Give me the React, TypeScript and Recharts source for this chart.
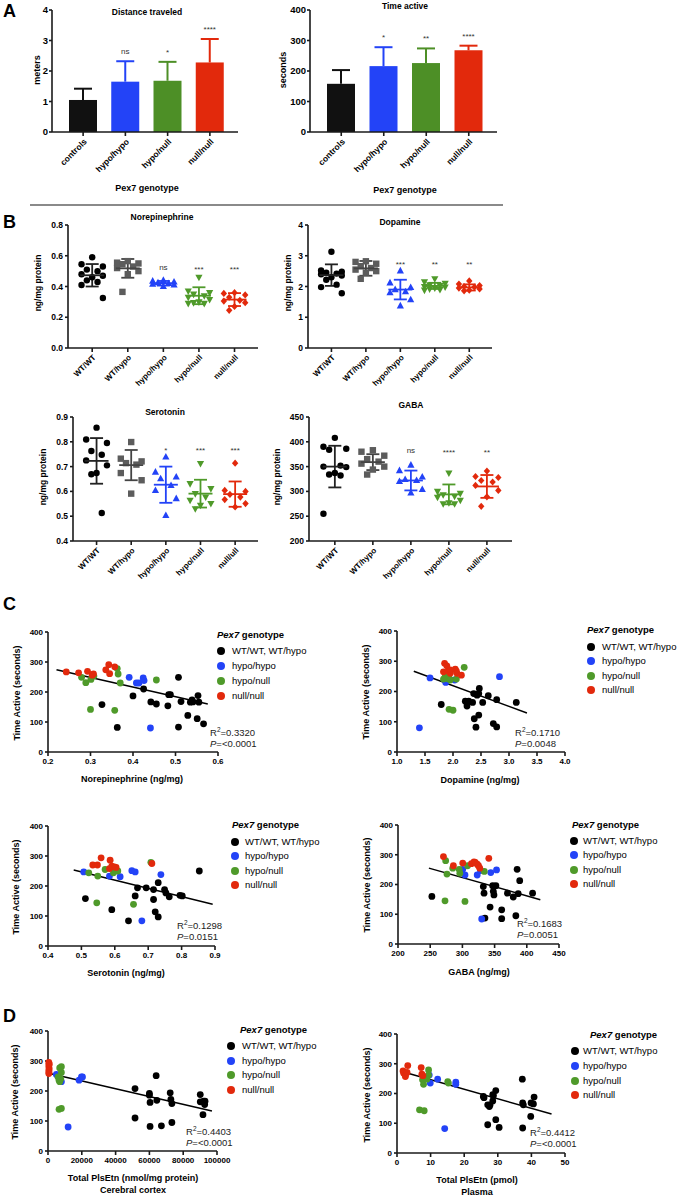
import React from 'react'
import {
  BarChart, Bar, ScatterChart, Scatter, XAxis, YAxis, ErrorBar, ReferenceLine,
} from 'recharts'

const FONT = '"Liberation Sans", Arial, Helvetica, sans-serif'
const BLACK = '#000000'
const GRAY = '#5c5c5c'
const BLUE = '#2343f7'
const GREEN = '#4f9a2a'
const RED = '#e2290c'

// ---- Panel A: open field ----
const A_CATS = ['controls', 'hypo/hypo', 'hypo/null', 'null/null']
const A_COLORS = ['#111111', BLUE, '#4d8f26', RED]
const DIST_MEAN = [1.05, 1.65, 1.68, 2.28]
const DIST_TOP = [1.42, 2.32, 2.30, 3.05]
const DIST_SIG = ['', 'ns', '*', '****']
const TIME_MEAN = [158, 216, 226, 268]
const TIME_TOP = [203, 278, 274, 283]
const TIME_SIG = ['', '*', '**', '****']

// ---- Panel B: neurotransmitters ----
const B_CATS = ['WT/WT', 'WT/hypo', 'hypo/hypo', 'hypo/null', 'null/null']
const B_CATS_SE = ['WT/WT', 'WT/hypo', 'hypo/hypo', 'hypo/null', 'null/ull']
const B_COLORS = [BLACK, GRAY, BLUE, GREEN, RED]
const B_MARKERS = ['circle', 'square', 'up', 'down', 'diamond']
const JITTER = [0, -0.3, 0.3, -0.15, 0.15, -0.3, 0.3, 0, -0.15, 0.15, -0.3, 0.3]

const NE_VALS = [
  [0.59, 0.545, 0.53, 0.51, 0.5, 0.48, 0.47, 0.46, 0.44, 0.43, 0.41, 0.325],
  [0.565, 0.555, 0.55, 0.545, 0.53, 0.52, 0.5, 0.48, 0.365],
  [0.44, 0.435, 0.43, 0.425, 0.42, 0.415, 0.41, 0.4],
  [0.46, 0.37, 0.36, 0.35, 0.34, 0.33, 0.315, 0.3, 0.295, 0.29, 0.29],
  [0.36, 0.355, 0.345, 0.33, 0.31, 0.305, 0.295, 0.27, 0.245],
]
const NE_MEAN = [0.473, 0.518, 0.421, 0.34, 0.315]
const NE_SD = [0.073, 0.061, 0.015, 0.055, 0.042]
const NE_SIG = ['', '', 'ns', '***', '***']

const DA_VALS = [
  [3.13, 2.52, 2.48, 2.45, 2.42, 2.4, 2.36, 2.3, 2.22, 2.06, 1.98, 1.78],
  [2.82, 2.8, 2.74, 2.66, 2.6, 2.55, 2.5, 2.45, 2.25],
  [2.51, 2.12, 1.97, 1.9, 1.83, 1.8, 1.57, 1.37],
  [2.25, 2.15, 2.1, 2.05, 2.03, 2.0, 1.98, 1.95, 1.92, 1.9, 1.88],
  [2.18, 2.08, 2.03, 2.0, 1.98, 1.95, 1.92, 1.88, 1.86],
]
const DA_MEAN = [2.37, 2.59, 1.9, 2.02, 1.97]
const DA_SD = [0.35, 0.24, 0.32, 0.1, 0.1]
const DA_SIG = ['', '', '***', '**', '**']

const SE_VALS = [
  [0.857, 0.809, 0.795, 0.763, 0.748, 0.725, 0.705, 0.674, 0.669, 0.513],
  [0.799, 0.732, 0.721, 0.714, 0.708, 0.674, 0.645, 0.591],
  [0.739, 0.678, 0.658, 0.651, 0.624, 0.604, 0.571, 0.503],
  [0.712, 0.631, 0.611, 0.591, 0.577, 0.564, 0.551, 0.544, 0.53],
  [0.714, 0.604, 0.6, 0.588, 0.577, 0.567, 0.551, 0.537],
]
const SE_MEAN = [0.723, 0.706, 0.627, 0.591, 0.589]
const SE_SD = [0.092, 0.061, 0.073, 0.056, 0.051]
const SE_SIG = ['', '', '*', '***', '***']

const GA_VALS = [
  [408, 390, 386, 384, 352, 350, 349, 337, 334, 332, 255],
  [383, 380, 372, 365, 360, 356, 350, 344, 334],
  [353, 342, 329, 324, 322, 320, 304, 297],
  [337, 300, 296, 293, 290, 288, 282, 277, 275, 275],
  [341, 330, 328, 322, 319, 312, 302, 289, 270],
]
const GA_MEAN = [350, 359, 322, 294, 310]
const GA_SD = [42, 16, 20, 20, 23]
const GA_SIG = ['', '', 'ns', '****', '**']

// ---- Panels C/D: time active vs. measurement ----
const LEGEND_LABELS = ['WT/WT, WT/hypo', 'hypo/hypo', 'hypo/null', 'null/null']
const LEGEND_COLORS = [BLACK, BLUE, GREEN, RED]

const NE_WT = [[0.327, 158], [0.363, 82], [0.4, 187], [0.425, 210], [0.442, 167], [0.455, 160], [0.482, 154], [0.484, 191], [0.488, 191], [0.507, 249], [0.507, 83], [0.513, 168], [0.529, 122], [0.535, 166], [0.539, 174], [0.541, 167], [0.553, 188], [0.555, 166], [0.551, 111], [0.566, 94]]
const NE_HH = [[0.391, 249], [0.408, 230], [0.414, 230], [0.424, 247], [0.426, 238], [0.441, 80]]
const NE_HN = [[0.279, 249], [0.289, 231], [0.301, 242], [0.308, 253], [0.363, 278], [0.365, 260], [0.37, 230], [0.455, 240], [0.3, 142], [0.357, 139]]
const NE_NN = [[0.243, 267], [0.272, 264], [0.293, 269], [0.307, 260], [0.304, 256], [0.336, 274], [0.343, 291], [0.345, 261], [0.357, 284]]
const NE_REG = [[0.22, 274], [0.576, 160]]

const DA_WT = [[1.79, 157], [2.47, 210], [2.46, 193], [2.37, 193], [2.43, 188], [2.63, 186], [2.78, 173], [3.13, 164], [2.53, 164], [2.22, 168], [2.28, 168], [2.35, 164], [2.25, 152], [2.38, 110], [2.46, 122], [2.41, 82], [2.72, 94], [2.78, 83]]
const DA_HH = [[1.59, 245], [1.87, 230], [2.03, 238], [2.83, 249], [1.4, 80]]
const DA_HN = [[2.2, 280], [1.83, 241], [1.86, 249], [1.89, 243], [1.93, 245], [1.95, 238], [2.06, 241], [1.93, 141], [2.0, 138]]
const DA_NN = [[1.85, 293], [1.89, 285], [1.83, 265], [1.92, 267], [1.95, 260], [1.95, 271], [2.04, 274], [2.06, 267], [2.07, 260], [2.15, 254]]
const DA_REG = [[1.3, 267], [3.32, 129]]

const SE_WT = [[0.512, 158], [0.591, 121], [0.641, 84], [0.661, 167], [0.668, 194], [0.694, 194], [0.716, 188], [0.73, 211], [0.716, 155], [0.721, 114], [0.73, 97], [0.749, 188], [0.753, 177], [0.763, 164], [0.795, 169], [0.802, 167], [0.853, 250]]
const SE_HH = [[0.507, 247], [0.584, 233], [0.616, 231], [0.651, 251], [0.661, 247], [0.738, 238], [0.681, 84]]
const SE_HN = [[0.522, 244], [0.549, 233], [0.571, 255], [0.596, 244], [0.601, 253], [0.609, 250], [0.708, 279], [0.546, 144], [0.656, 139]]
const SE_NN = [[0.534, 270], [0.548, 270], [0.559, 294], [0.586, 286], [0.584, 258], [0.591, 266], [0.599, 264], [0.604, 262], [0.711, 275]]
const SE_REG = [[0.477, 253], [0.893, 139]]

const GA_WT = [[252.6, 160], [332.5, 193], [333.6, 171], [347, 196], [348, 177], [352, 196], [349, 165], [343, 124], [335, 87], [361, 115], [361, 85], [370, 171], [379, 158], [383, 95], [385, 251], [386.6, 169], [389, 213], [409, 171]]
const GA_HH = [[300.5, 251], [304, 232], [323, 232], [328, 247], [344, 240], [353, 249], [330, 84]]
const GA_HN = [[274, 280], [276, 235], [285, 255], [295, 251], [296, 238], [308, 263], [334, 244], [273, 145], [304, 143]]
const GA_NN = [[270.6, 294], [286, 263], [300.5, 272], [314, 270], [318, 276], [320, 274], [323, 268], [325, 263], [327, 255], [341, 288]]
const GA_REG = [[248, 255], [421, 149]]

const CX_WT = [[51500, 208], [51500, 110], [60000, 192], [60000, 186], [60400, 162], [60400, 82], [64000, 251], [64400, 169], [67100, 84], [72300, 194], [72700, 172], [73300, 158], [73300, 95], [90100, 188], [90100, 164], [92100, 166], [91700, 121], [92900, 166], [92700, 155]]
const CX_HH = [[4950, 255], [7920, 231], [18400, 236], [19800, 247], [20400, 247], [11900, 80]]
const CX_HN = [[6930, 277], [7920, 262], [5940, 247], [6530, 236], [6930, 231], [7920, 281], [7520, 240], [6530, 139], [7920, 142]]
const CX_NN = [[500, 295], [600, 288], [500, 281], [700, 274], [500, 268], [600, 262], [500, 258], [700, 290]]
const CX_REG = [[990, 258], [97000, 133]]

const PL_WT = [[25.7, 190], [25.9, 186], [27, 162], [27.5, 156], [27.7, 162], [28.5, 175], [28.7, 193], [29.4, 210], [28.5, 196], [27, 95], [29.4, 112], [30.4, 86], [37.3, 248], [37.4, 168], [37.6, 162], [37.4, 84], [39.8, 123], [39.9, 168], [40.6, 165], [40.8, 188]]
const PL_HH = [[9.6, 262], [9.9, 235], [12.1, 248], [17.5, 238], [17.5, 231], [14.2, 82]]
const PL_HN = [[7.6, 246], [7.9, 231], [9.4, 279], [9.4, 262], [8.9, 248], [15.1, 240], [15.3, 235], [6.7, 145], [8.1, 142]]
const PL_NN = [[1.8, 276], [2, 268], [2.5, 262], [2.5, 257], [3.2, 294], [3, 271], [7.2, 287], [7.4, 265], [7.7, 260]]
const PL_REG = [[2.2, 271.5], [46, 131]]

const AX = { stroke: '#1a1a1a', strokeWidth: 1.6 }
const tickFont = (size: number) => ({ fontSize: size, fontWeight: 700, fill: '#000', fontFamily: FONT })

function Txt({ x, y, children, size = 9, bold = true, anchor = 'middle', rotate = false, color = '#000' }: any) {
  const tx = anchor === 'middle' ? '-50%' : anchor === 'end' ? '-100%' : '0'
  return (
    <div style={{
      position: 'absolute', left: x, top: y, whiteSpace: 'nowrap', fontSize: size, color,
      fontWeight: bold ? 700 : 400, fontFamily: FONT, lineHeight: 1,
      transform: `translate(${tx}, -50%)${rotate ? ' rotate(-90deg)' : ''}`,
    }}>{children}</div>
  )
}

function BarWithErr(props: any) {
  const { x, y, width, height, payload } = props
  const base = y + height
  const top = base - payload.top * (height / payload.mean)
  const cx = x + width / 2
  const c = payload.color
  return (
    <g>
      <rect x={x} y={y} width={width} height={height} fill={c} />
      <line x1={cx} x2={cx} y1={y} y2={top} stroke={c} strokeWidth={2} />
      <line x1={cx - 9} x2={cx + 9} y1={top} y2={top} stroke={c} strokeWidth={2} />
      {payload.sig ? (
        <text x={cx} y={top - 7} textAnchor="middle" fontSize={8} fill="#333" fontFamily={FONT}>{payload.sig}</text>
      ) : null}
    </g>
  )
}

function BarPanel({ box, ymax, ticks, means, tops, sigs }: any) {
  const YW = 40, T = 10, R = 10, XH = 60
  const data = A_CATS.map((c, i) => ({ cat: c, mean: means[i], top: tops[i], sig: sigs[i], color: A_COLORS[i] }))
  return (
    <div style={{ position: 'absolute', left: box.x - YW, top: box.y - T }}>
      <BarChart width={YW + box.w + R} height={T + box.h + XH} data={data}
        margin={{ top: T, right: R, bottom: 0, left: 0 }}>
        <XAxis dataKey="cat" interval={0} padding={{ left: 10, right: 7 }} height={XH}
          angle={-45} textAnchor="end" tick={tickFont(8.5)} axisLine={AX} tickLine={AX} tickSize={4} />
        <YAxis width={YW} domain={[0, ymax]} ticks={ticks} tick={tickFont(9.5)}
          axisLine={AX} tickLine={AX} tickSize={3} tickMargin={1} />
        <Bar dataKey="mean" barSize={28} shape={BarWithErr} isAnimationActive={false} />
      </BarChart>
    </div>
  )
}

function marker(kind: string, color: string) {
  return (p: any) => {
    const { cx, cy } = p
    if (kind === 'circle') return <circle cx={cx} cy={cy} r={3.2} fill={color} />
    if (kind === 'square') return <rect x={cx - 3.2} y={cy - 3.2} width={6.4} height={6.4} fill={color} />
    if (kind === 'up') return <polygon points={`${cx},${cy - 4} ${cx - 3.6},${cy + 2.6} ${cx + 3.6},${cy + 2.6}`} fill={color} />
    if (kind === 'down') return <polygon points={`${cx},${cy + 4} ${cx - 3.6},${cy - 2.6} ${cx + 3.6},${cy - 2.6}`} fill={color} />
    return <polygon points={`${cx},${cy - 3.6} ${cx + 3.2},${cy} ${cx},${cy + 3.6} ${cx - 3.2},${cy}`} fill={color} />
  }
}

const meanShape = (color: string) => (p: any) => (
  <line x1={p.cx - 12} x2={p.cx + 12} y1={p.cy} y2={p.cy} stroke={color} strokeWidth={1.8} />
)

const SigText = (p: any) => (
  <text x={p.cx} y={p.cy + (p.payload.label === 'ns' ? 3 : 5)} textAnchor="middle"
    fontSize={8} fill="#333" fontFamily={FONT}>{p.payload.label}</text>
)

function DotPanel({ box, cats, yDomain, yTicks, yFmt, vals, means, sds, sigs, sigY }: any) {
  const YW = 40, T = 8, R = 10, XH = 60
  return (
    <div style={{ position: 'absolute', left: box.x - YW, top: box.y - T }}>
      <ScatterChart width={YW + box.w + R} height={T + box.h + XH}
        margin={{ top: T, right: R, bottom: 0, left: 0 }}>
        <XAxis type="number" dataKey="x" domain={[0.32, 5.66]} ticks={[1, 2, 3, 4, 5]}
          tickFormatter={(v: number) => cats[Math.round(v) - 1]} interval={0} height={XH}
          angle={-45} textAnchor="end" tick={tickFont(8)} axisLine={AX} tickLine={AX} tickSize={4} />
        <YAxis type="number" dataKey="y" domain={yDomain} ticks={yTicks} tickFormatter={yFmt}
          width={YW} tick={tickFont(8.5)} axisLine={AX} tickLine={AX} tickSize={3} tickMargin={2} />
        {vals.map((arr: number[], g: number) => (
          <Scatter key={'p' + g} data={arr.map((v, j) => ({ x: g + 1 + JITTER[j], y: v }))}
            shape={marker(B_MARKERS[g], B_COLORS[g])} isAnimationActive={false} />
        ))}
        {means.map((m: number, g: number) => (
          <Scatter key={'m' + g} data={[{ x: g + 1, y: m, sd: sds[g] }]}
            shape={meanShape(g === 0 ? '#222' : g === 1 ? '#444' : B_COLORS[g])} isAnimationActive={false}>
            <ErrorBar dataKey="sd" direction="y" width={6.5}
              stroke={g === 0 ? '#222' : g === 1 ? '#444' : B_COLORS[g]} strokeWidth={1.8} />
          </Scatter>
        ))}
        <Scatter data={sigs.map((s: string, g: number) => ({ x: g + 1, y: sigY, label: s }))}
          shape={SigText} isAnimationActive={false} />
      </ScatterChart>
    </div>
  )
}

const toPts = (arr: number[][]) => arr.map(([x, y]) => ({ x, y }))

function CorrPanel({ box, xDomain, xTicks, xFmt, groups, reg }: any) {
  const YW = 40, T = 8, R = 22, XH = 30
  return (
    <div style={{ position: 'absolute', left: box.x - YW, top: box.y - T }}>
      <ScatterChart width={YW + box.w + R} height={T + box.h + XH}
        margin={{ top: T, right: R, bottom: 0, left: 0 }}>
        <XAxis type="number" dataKey="x" domain={xDomain} ticks={xTicks} tickFormatter={xFmt}
          interval={0} height={XH} tick={tickFont(8)} axisLine={AX} tickLine={AX} tickSize={4} />
        <YAxis type="number" dataKey="y" domain={[0, 400]} ticks={[0, 100, 200, 300, 400]}
          width={YW} tick={tickFont(8)} axisLine={AX} tickLine={AX} tickSize={3} tickMargin={2} />
        {groups.map((g: number[][], i: number) => (
          <Scatter key={i} data={toPts(g)} isAnimationActive={false}
            shape={(p: any) => <circle cx={p.cx} cy={p.cy} r={3.4} fill={LEGEND_COLORS[i]} />} />
        ))}
        <ReferenceLine segment={[{ x: reg[0][0], y: reg[0][1] }, { x: reg[1][0], y: reg[1][1] }]}
          stroke="#000" strokeWidth={1.5} ifOverflow="visible" />
      </ScatterChart>
    </div>
  )
}

function GenoLegend({ titleX, titleY, dotX, textX, rows }: any) {
  return (
    <>
      <Txt x={titleX} y={titleY} anchor="start" size={9.5}><i>Pex7</i> genotype</Txt>
      {LEGEND_LABELS.map((l, i) => (
        <React.Fragment key={l}>
          <div style={{
            position: 'absolute', left: dotX - 4, top: rows[i] - 4, width: 8, height: 8,
            borderRadius: 4, background: LEGEND_COLORS[i],
          }} />
          <Txt x={textX} y={rows[i]} anchor="start" size={9.5} bold={false}>{l}</Txt>
        </React.Fragment>
      ))}
    </>
  )
}

function Stats({ x, y, r2, p }: any) {
  return (
    <>
      <Txt x={x} y={y} anchor="start" size={9.5} bold={false} color="#222">
        R<sup style={{ fontSize: 6.5 }}>2</sup>={r2}
      </Txt>
      <Txt x={x} y={y + 12} anchor="start" size={9.5} bold={false} color="#222">
        <i>P</i>={p}
      </Txt>
    </>
  )
}

const f1 = (v: number) => v.toFixed(1)
const f0 = (v: number) => String(v)

export default function App() {
  return (
    <div style={{
      position: 'absolute', left: 0, top: 0, width: 679, height: 1197,
      background: '#fff', fontFamily: FONT, overflow: 'hidden',
    }}>
      {/* A */}
      <Txt x={3} y={11} anchor="start" size={18}>A</Txt>
      <Txt x={147} y={12} size={8.5}>Distance traveled</Txt>
      <Txt x={405} y={6} size={8.5}>Time active</Txt>
      <Txt x={37} y={70} size={9} rotate>meters</Txt>
      <Txt x={283} y={70} size={9} rotate>seconds</Txt>
      <BarPanel box={{ x: 52, y: 10, w: 186, h: 122 }} ymax={4} ticks={[0, 1, 2, 3, 4]}
        means={DIST_MEAN} tops={DIST_TOP} sigs={DIST_SIG} />
      <BarPanel box={{ x: 310, y: 10, w: 187, h: 122 }} ymax={400} ticks={[0, 100, 200, 300, 400]}
        means={TIME_MEAN} tops={TIME_TOP} sigs={TIME_SIG} />
      <Txt x={147} y={188} size={9}>Pex7 genotype</Txt>
      <Txt x={405} y={190} size={9}>Pex7 genotype</Txt>

      <div style={{ position: 'absolute', left: 30, top: 204, width: 473, height: 1.5, background: '#8a8a8a' }} />

      {/* B */}
      <Txt x={3} y={222} anchor="start" size={18}>B</Txt>
      <Txt x={162} y={217} size={8.5}>Norepinephrine</Txt>
      <Txt x={400} y={222} size={8.5}>Dopamine</Txt>
      <Txt x={165} y={412} size={8.5}>Serotonin</Txt>
      <Txt x={411} y={405} size={8.5}>GABA</Txt>
      <Txt x={38} y={283} size={8.5} rotate>ng/mg protein</Txt>
      <Txt x={288} y={283} size={8.5} rotate>ng/mg protein</Txt>
      <Txt x={43} y={477} size={8.5} rotate>ng/mg protein</Txt>
      <Txt x={277} y={477} size={8.5} rotate>ng/mg protein</Txt>
      <DotPanel box={{ x: 68, y: 225, w: 190, h: 123 }} cats={B_CATS} yDomain={[0, 0.8]}
        yTicks={[0, 0.2, 0.4, 0.6, 0.8]} yFmt={f1} vals={NE_VALS} means={NE_MEAN} sds={NE_SD}
        sigs={NE_SIG} sigY={0.525} />
      <DotPanel box={{ x: 308, y: 225, w: 184, h: 123 }} cats={B_CATS} yDomain={[0, 4]}
        yTicks={[0, 1, 2, 3, 4]} yFmt={f0} vals={DA_VALS} means={DA_MEAN} sds={DA_SD}
        sigs={DA_SIG} sigY={2.81} />
      <DotPanel box={{ x: 73, y: 417, w: 185, h: 124 }} cats={B_CATS_SE} yDomain={[0.4, 0.9]}
        yTicks={[0.4, 0.5, 0.6, 0.7, 0.8, 0.9]} yFmt={f1} vals={SE_VALS} means={SE_MEAN} sds={SE_SD}
        sigs={SE_SIG} sigY={0.775} />
      <DotPanel box={{ x: 309, y: 417, w: 203, h: 124 }} cats={B_CATS} yDomain={[200, 450]}
        yTicks={[200, 250, 300, 350, 400, 450]} yFmt={f0} vals={GA_VALS} means={GA_MEAN} sds={GA_SD}
        sigs={GA_SIG} sigY={383} />

      {/* C */}
      <Txt x={3} y={604} anchor="start" size={18}>C</Txt>
      <CorrPanel box={{ x: 48, y: 632, w: 170, h: 120 }} xDomain={[0.2, 0.6]}
        xTicks={[0.2, 0.3, 0.4, 0.5, 0.6]} xFmt={f1} groups={[NE_WT, NE_HH, NE_HN, NE_NN]} reg={NE_REG} />
      <Txt x={17} y={693} size={9} rotate>Time Active (seconds)</Txt>
      <Txt x={132} y={779} size={9}>Norepinephrine (ng/mg)</Txt>
      <GenoLegend titleX={217} titleY={635} dotX={221} textX={232} rows={[651, 666, 681, 696]} />
      <Stats x={210} y={732} r2="0.3320" p="<0.0001" />

      <CorrPanel box={{ x: 397, y: 631, w: 168, h: 121 }} xDomain={[1, 4]}
        xTicks={[1, 1.5, 2, 2.5, 3, 3.5, 4]} xFmt={f1} groups={[DA_WT, DA_HH, DA_HN, DA_NN]} reg={DA_REG} />
      <Txt x={366} y={692} size={9} rotate>Time Active (seconds)</Txt>
      <Txt x={480} y={780} size={9}>Dopamine (ng/mg)</Txt>
      <GenoLegend titleX={587} titleY={630} dotX={591} textX={602} rows={[647, 661, 676, 690]} />
      <Stats x={515} y={732} r2="0.1710" p="0.0048" />

      <CorrPanel box={{ x: 48, y: 826, w: 167, h: 120 }} xDomain={[0.4, 0.9]}
        xTicks={[0.4, 0.5, 0.6, 0.7, 0.8, 0.9]} xFmt={f1} groups={[SE_WT, SE_HH, SE_HN, SE_NN]} reg={SE_REG} />
      <Txt x={16} y={887} size={9} rotate>Time Active (seconds)</Txt>
      <Txt x={126} y={973} size={9}>Serotonin (ng/mg)</Txt>
      <GenoLegend titleX={232} titleY={825} dotX={235} textX={245} rows={[842, 856, 871, 885]} />
      <Stats x={177} y={925} r2="0.1298" p="0.0151" />

      <CorrPanel box={{ x: 398, y: 825, w: 161, h: 119 }} xDomain={[200, 450]}
        xTicks={[200, 250, 300, 350, 400, 450]} xFmt={f0} groups={[GA_WT, GA_HH, GA_HN, GA_NN]} reg={GA_REG} />
      <Txt x={367} y={885} size={9} rotate>Time Active (seconds)</Txt>
      <Txt x={479} y={972} size={9}>GABA (ng/mg)</Txt>
      <GenoLegend titleX={572} titleY={825} dotX={574} textX={583} rows={[841, 855, 870, 884]} />
      <Stats x={517} y={923} r2="0.1683" p="0.0051" />

      {/* D */}
      <Txt x={3} y={1016} anchor="start" size={18}>D</Txt>
      <CorrPanel box={{ x: 48, y: 1031, w: 169, h: 120 }} xDomain={[0, 100000]}
        xTicks={[0, 20000, 40000, 60000, 80000, 100000]} xFmt={f0}
        groups={[CX_WT, CX_HH, CX_HN, CX_NN]} reg={CX_REG} />
      <Txt x={15} y={1092} size={9} rotate>Time Active (seconds)</Txt>
      <Txt x={133} y={1178} size={9}>Total PlsEtn (nmol/mg protein)</Txt>
      <Txt x={133} y={1190} size={9}>Cerebral cortex</Txt>
      <GenoLegend titleX={240} titleY={1030} dotX={231} textX={242} rows={[1046, 1061, 1075, 1090]} />
      <Stats x={186} y={1131} r2="0.4403" p="<0.0001" />

      <CorrPanel box={{ x: 397, y: 1034, w: 168, h: 119 }} xDomain={[0, 50]}
        xTicks={[0, 10, 20, 30, 40, 50]} xFmt={f0} groups={[PL_WT, PL_HH, PL_HN, PL_NN]} reg={PL_REG} />
      <Txt x={367} y={1095} size={9} rotate>Time Active (seconds)</Txt>
      <Txt x={477} y={1180} size={9}>Total PlsEtn (pmol)</Txt>
      <Txt x={477} y={1192} size={9}>Plasma</Txt>
      <GenoLegend titleX={590} titleY={1035} dotX={575} textX={583} rows={[1051, 1066, 1081, 1095]} />
      <Stats x={530} y={1132} r2="0.4412" p="<0.0001" />
    </div>
  )
}
